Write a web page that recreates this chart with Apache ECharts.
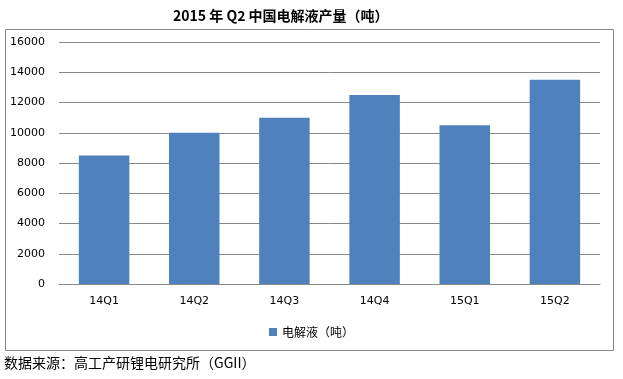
<!DOCTYPE html>
<html><head><meta charset="utf-8">
<script src="https://cdn.jsdelivr.net/npm/echarts@6/dist/echarts.min.js"></script>
<style>html,body{margin:0;padding:0;background:#fff}#c{width:623px;height:379px}</style>
</head><body><div id="c"></div>
<script>
var categories = ['14Q1','14Q2','14Q3','14Q4','15Q1','15Q2'];
var values = [8500, 10000, 11000, 12500, 10500, 13500];
var seriesName = '电解液（吨）';
var titleText = '2015 年 Q2 中国电解液产量（吨）';
var sourceText = '数据来源：高工产研锂电研究所（GGII）';

var chart = echarts.init(document.getElementById('c'), null, {renderer:'canvas'});
chart.setOption({
  animation:false,
  backgroundColor:'#fff',
  title:{text:titleText,left:168,top:4,textStyle:{fontFamily:'"Noto Sans CJK SC", serif',fontSize:14,fontWeight:'bold',color:'#000'}},
  graphic:[
    {type:'rect',shape:{x:5.5,y:29.5,width:608,height:321},style:{fill:'none',stroke:'#888',lineWidth:1},silent:true},
    {type:'text',left:4,top:356,style:{text:sourceText,font:'14px "Noto Sans CJK SC"',fill:'#000'}}
  ],
  legend:{data:[seriesName],top:321,left:'center',itemWidth:8,itemHeight:8,itemGap:4,icon:'rect',textStyle:{fontFamily:'"Noto Sans CJK SC"',fontSize:12,color:'#000'}},
  grid:{left:59,right:23,top:42,bottom:95},
  xAxis:{type:'category',data:categories,axisLine:{lineStyle:{color:'#888'}},axisTick:{show:false},axisLabel:{color:'#000',fontSize:11,fontFamily:'"DejaVu Sans"',margin:12}},
  yAxis:{type:'value',min:0,max:16000,interval:2000,axisLine:{show:false},axisTick:{show:false},splitLine:{lineStyle:{color:'#888'}},axisLabel:{color:'#000',fontSize:11,fontFamily:'"DejaVu Sans"',margin:14,formatter:function(v){return String(v);}}},
  series:[{name:seriesName,type:'bar',data:values,barWidth:'56%',itemStyle:{color:'#4F81BD'}}]
});
</script></body></html>
